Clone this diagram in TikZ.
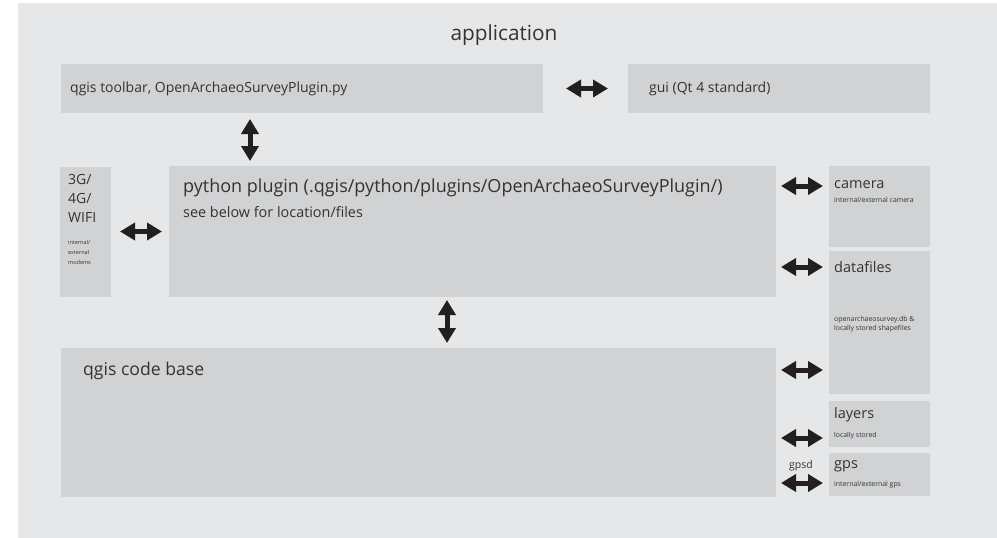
\documentclass[tikz,border=0pt]{standalone}
\usepackage{fontspec}
\setmainfont{Open Sans}
\usetikzlibrary{arrows.meta, positioning}

\definecolor{appbg}{HTML}{E6E7E8}
\definecolor{boxbg}{HTML}{D1D2D4}
\definecolor{ink}{HTML}{333333}
\definecolor{arrowink}{HTML}{231F20}

\tikzset{
  block/.style={fill=boxbg, inner sep=0pt, outer sep=0pt},
  txt/.style={text=ink, inner sep=0pt, anchor=base west},
  small/.style={txt, font=\fontsize{6.9}{8}\selectfont},
  dbl/.style={draw=arrowink, line width=5pt,
    {Triangle[length=15pt,width=17pt]}-{Triangle[length=15pt,width=17pt]}},
}

\begin{document}
\begin{tikzpicture}[x=1pt, y=-1pt]
    % --- BACKGROUND ---
    \useasboundingbox (0,0) rectangle (997,538);
    \fill[appbg] (18,3) rectangle (997,538);
    \node (app) [text=ink, inner sep=0pt, anchor=base, font=\fontsize{20.8}{22}\selectfont] at (504,40) {application};

    % --- TOP ROW ---
    \node (toolbar) [block, anchor=north west, minimum width=482pt, minimum height=49pt] at (61,64) {};
    \node (gui) [block, minimum width=302pt, minimum height=49pt, right=85pt of toolbar] {};
    \node (toolbartxt) [txt, font=\fontsize{14}{15}\selectfont] at ([shift={(9,28)}]toolbar.north west) {qgis toolbar, OpenArchaeoSurveyPlugin.py};
    \node (guitxt) [txt, font=\fontsize{14}{15}\selectfont] at ([shift={(21,28)}]gui.north west) {gui (Qt 4 standard)};

    % --- PLUGIN ROW ---
    \node (py) [block, anchor=north west, minimum width=607pt, minimum height=131pt] at (169,166) {};
    \node (modem) [block, minimum width=51pt, minimum height=130pt, left=58pt of py] {};
    \node (pytxt) [txt, font=\fontsize{18}{18}\selectfont] at ([shift={(14,26)}]py.north west) {python plugin (.qgis/python/plugins/OpenArchaeoSurveyPlugin/)};
    \node (pysub) [txt, font=\fontsize{14.4}{15}\selectfont] at ([shift={(14,51)}]py.north west) {see below for location/files};
    \node (modemtxt) [txt, font=\fontsize{14}{19}\selectfont, align=left, anchor=north west] at ([shift={(8,8)}]modem.north west) {3G/\\4G/\\WIFI};
    \node (modemsub) [small, font=\fontsize{5.5}{10}\selectfont, align=left, anchor=north west] at ([shift={(8,74)}]modem.north west) {internal/\\external\\modems};

    % --- CODE BASE ---
    \node (code) [block, anchor=north west, minimum width=715pt, minimum height=149pt] at (61,348) {};
    \node (codetxt) [txt, font=\fontsize{17.6}{18}\selectfont] at ([shift={(22,27)}]code.north west) {qgis code base};

    % --- RIGHT COLUMN ---
    \node (cam) [block, anchor=north west, minimum width=101pt, minimum height=81pt] at (829,166) {};
    \node (data) [block, minimum width=101pt, minimum height=143pt, below=4pt of cam] {};
    \node (layers) [block, minimum width=101pt, minimum height=46pt, below=7pt of data] {};
    \node (gps) [block, minimum width=101pt, minimum height=43pt, below=6pt of layers] {};

    \node (camtxt) [txt, font=\fontsize{14.5}{17}\selectfont] at ([shift={(5,22)}]cam.north west) {camera};
    \node (camsub) [small] at ([shift={(5,36)}]cam.north west) {internal/external camera};
    \node (datatxt) [txt, font=\fontsize{14.5}{17}\selectfont] at ([shift={(5,21)}]data.north west) {datafiles};
    \node (datasub) [small, font=\fontsize{6.9}{9}\selectfont, align=left, anchor=north west] at ([shift={(5,65)}]data.north west) {openarchaeosurvey.db \&\\locally stored shapefiles};
    \node (layerstxt) [txt, font=\fontsize{14.5}{17}\selectfont] at ([shift={(5,17)}]layers.north west) {layers};
    \node (layerssub) [small] at ([shift={(5,36)}]layers.north west) {locally stored};
    \node (gpstxt) [txt, font=\fontsize{14.5}{17}\selectfont] at ([shift={(5,15)}]gps.north west) {gps};
    \node (gpssub) [small] at ([shift={(5,33)}]gps.north west) {internal/external gps};
    \node (gpsd) [txt, anchor=base east, font=\fontsize{10.5}{14}\selectfont] at ([shift={(-16,15)}]gps.north west) {gpsd};

    % Arrows
    \draw[dbl, shorten <=23pt, shorten >=20pt] (toolbar.east) -- (gui.west);
    \draw[dbl, shorten <=6pt, shorten >=5pt] ([xshift=189pt]toolbar.south west) -- ([xshift=81pt]py.north west);
    \draw[dbl, shorten <=9pt, shorten >=7pt] (modem.east) -- (py.west);
    \draw[dbl, shorten <=3pt, shorten >=5pt] ([xshift=278pt]py.south west) -- ([xshift=386pt]code.north west);
    \draw[dbl, shorten <=5pt, shorten >=6pt] ([yshift=-20pt]py.north east) -- ([yshift=-20pt]cam.north west);
    \draw[dbl, shorten <=5pt, shorten >=6pt] ([yshift=-101pt]py.north east) -- ([yshift=-16pt]data.north west);
    \draw[dbl, shorten <=5pt, shorten >=6pt] ([yshift=-22pt]code.north east) -- ([yshift=-119pt]data.north west);
    \draw[dbl, shorten <=5pt, shorten >=6pt] ([yshift=-90pt]code.north east) -- ([yshift=-37pt]layers.north west);
    \draw[dbl, shorten <=5pt, shorten >=6pt] ([yshift=-135pt]code.north east) -- ([yshift=-30pt]gps.north west);

\end{tikzpicture}
\end{document}
